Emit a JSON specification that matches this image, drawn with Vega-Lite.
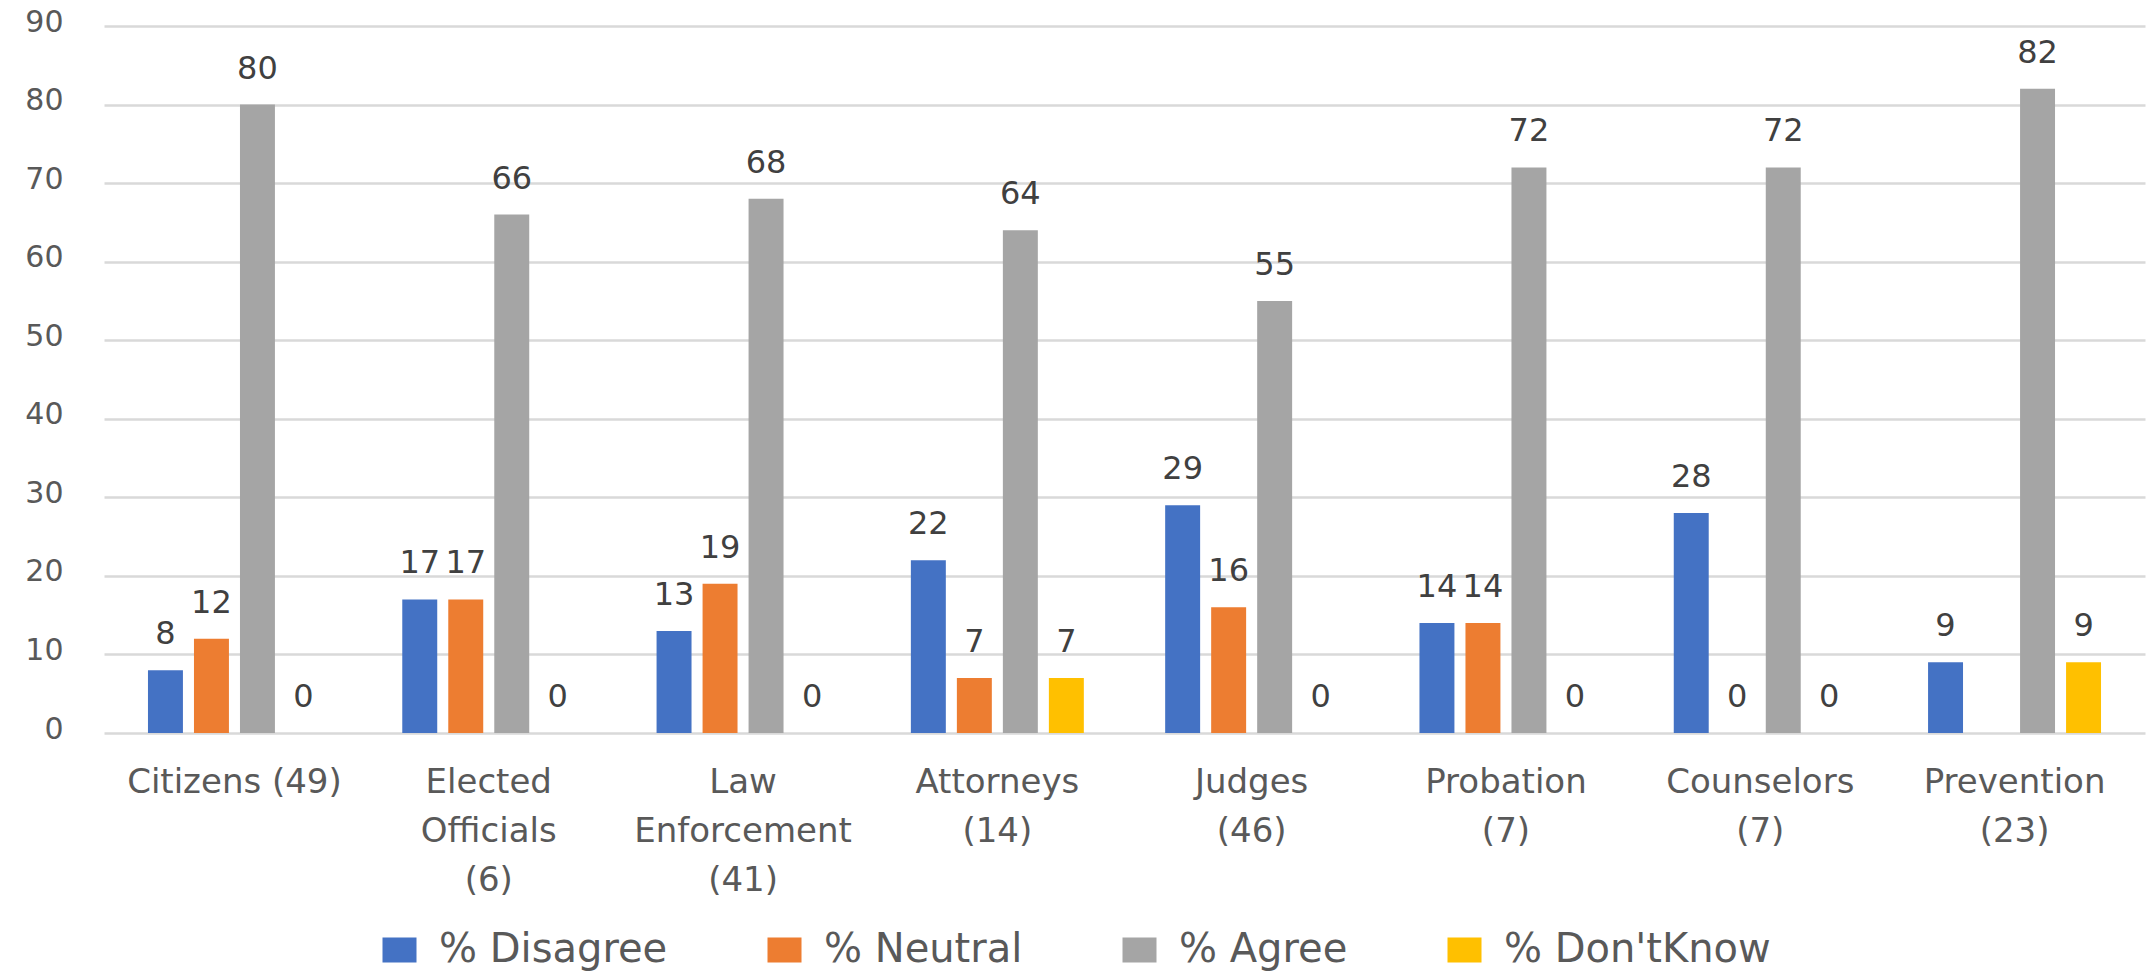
{
  "$schema": "https://vega.github.io/schema/vega-lite/v6.json",
  "width": 2041,
  "height": 707,
  "autosize": {"type": "none"},
  "padding": {"left": 104, "top": 26, "right": 4, "bottom": 238},
  "background": "white",
  "data": {
    "values": [
      {"group": "Citizens (49)", "response": "% Disagree", "pct": 8},
      {"group": "Citizens (49)", "response": "% Neutral", "pct": 12},
      {"group": "Citizens (49)", "response": "% Agree", "pct": 80},
      {"group": "Citizens (49)", "response": "% Don'tKnow", "pct": 0},
      {"group": "Elected Officials (6)", "response": "% Disagree", "pct": 17},
      {"group": "Elected Officials (6)", "response": "% Neutral", "pct": 17},
      {"group": "Elected Officials (6)", "response": "% Agree", "pct": 66},
      {"group": "Elected Officials (6)", "response": "% Don'tKnow", "pct": 0},
      {"group": "Law Enforcement (41)", "response": "% Disagree", "pct": 13},
      {"group": "Law Enforcement (41)", "response": "% Neutral", "pct": 19},
      {"group": "Law Enforcement (41)", "response": "% Agree", "pct": 68},
      {"group": "Law Enforcement (41)", "response": "% Don'tKnow", "pct": 0},
      {"group": "Attorneys (14)", "response": "% Disagree", "pct": 22},
      {"group": "Attorneys (14)", "response": "% Neutral", "pct": 7},
      {"group": "Attorneys (14)", "response": "% Agree", "pct": 64},
      {"group": "Attorneys (14)", "response": "% Don'tKnow", "pct": 7},
      {"group": "Judges (46)", "response": "% Disagree", "pct": 29},
      {"group": "Judges (46)", "response": "% Neutral", "pct": 16},
      {"group": "Judges (46)", "response": "% Agree", "pct": 55},
      {"group": "Judges (46)", "response": "% Don'tKnow", "pct": 0},
      {"group": "Probation (7)", "response": "% Disagree", "pct": 14},
      {"group": "Probation (7)", "response": "% Neutral", "pct": 14},
      {"group": "Probation (7)", "response": "% Agree", "pct": 72},
      {"group": "Probation (7)", "response": "% Don'tKnow", "pct": 0},
      {"group": "Counselors (7)", "response": "% Disagree", "pct": 28},
      {"group": "Counselors (7)", "response": "% Neutral", "pct": 0},
      {"group": "Counselors (7)", "response": "% Agree", "pct": 72},
      {"group": "Counselors (7)", "response": "% Don'tKnow", "pct": 0},
      {"group": "Prevention (23)", "response": "% Disagree", "pct": 9},
      {"group": "Prevention (23)", "response": "% Agree", "pct": 82},
      {"group": "Prevention (23)", "response": "% Don'tKnow", "pct": 9}
    ]
  },
  "encoding": {
    "x": {
      "field": "group",
      "type": "nominal",
      "sort": ["Citizens (49)", "Elected Officials (6)", "Law Enforcement (41)", "Attorneys (14)", "Judges (46)", "Probation (7)", "Counselors (7)", "Prevention (23)"],
      "scale": {"paddingInner": 0, "paddingOuter": 0.013},
      "axis": {
        "title": null,
        "domain": false,
        "ticks": false,
        "labelAngle": 0,
        "labelFont": "DejaVu Sans",
        "labelFontSize": 34,
        "labelColor": "#595959",
        "labelPadding": 32,
        "labelLineHeight": 49,
        "labelOverlap": false,
        "labelLimit": 0,
        "labelExpr": "datum.label == 'Citizens (49)' ? datum.label : split(datum.label, ' ')"
      }
    },
    "xOffset": {
      "field": "response",
      "type": "nominal",
      "sort": ["% Disagree", "% Neutral", "% Agree", "% Don'tKnow"],
      "scale": {"domain": ["% Disagree", "% Neutral", "% Agree", "% Don'tKnow"], "paddingInner": 0.24, "paddingOuter": 0.884}
    },
    "y": {
      "field": "pct",
      "type": "quantitative",
      "scale": {"domain": [0, 90], "nice": false},
      "axis": {
        "title": null,
        "values": [0, 10, 20, 30, 40, 50, 60, 70, 80, 90],
        "domain": false,
        "ticks": false,
        "grid": true,
        "gridColor": "#D9D9D9",
        "gridWidth": 2.5,
        "labelFont": "DejaVu Sans",
        "labelFontSize": 30,
        "labelColor": "#595959",
        "labelPadding": 41,
        "labelOffset": -4
      }
    }
  },
  "layer": [
    {
      "mark": {"type": "bar"},
      "encoding": {
        "color": {
          "field": "response",
          "type": "nominal",
          "sort": ["% Disagree", "% Neutral", "% Agree", "% Don'tKnow"],
          "scale": {
            "domain": ["% Disagree", "% Neutral", "% Agree", "% Don'tKnow"],
            "range": ["#4472C4", "#ED7D31", "#A5A5A5", "#FFC000"]
          },
          "legend": {
            "title": null,
            "orient": "none",
            "direction": "horizontal",
            "legendX": 275.5,
            "legendY": 904,
            "padding": 0,
            "labelFont": "DejaVu Sans",
            "labelFontSize": 40,
            "labelColor": "#595959",
            "labelLimit": 0,
            "labelOffset": 19.5,
            "columnPadding": 97,
            "symbolType": "M-1.36,-1H1.36V1H-1.36Z",
            "symbolSize": 625,
            "symbolStrokeWidth": 0,
            "symbolOpacity": 1
          }
        }
      }
    },
    {
      "mark": {
        "type": "text",
        "baseline": "alphabetic",
        "dy": -26,
        "font": "DejaVu Sans",
        "fontSize": 32,
        "color": "#404040"
      },
      "encoding": {
        "text": {"field": "pct", "type": "quantitative"}
      }
    }
  ],
  "config": {
    "view": {"stroke": null}
  }
}
